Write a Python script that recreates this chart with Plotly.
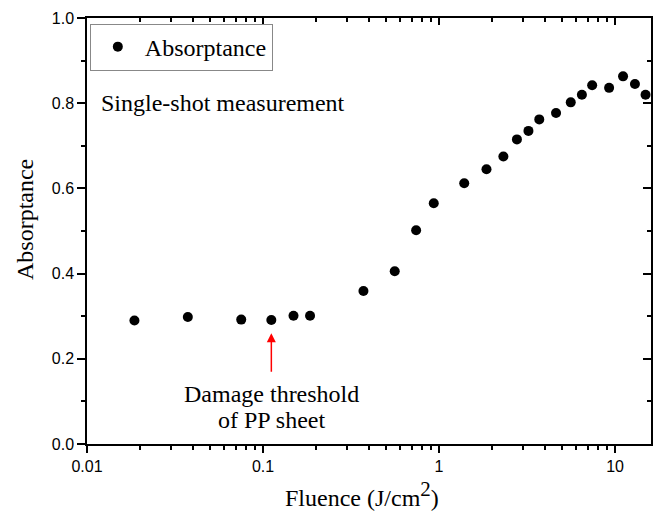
import math
import plotly.graph_objects as go

# Data
fluence = [0.0186, 0.0374, 0.0752, 0.1115, 0.149, 0.185, 0.372, 0.56, 0.741, 0.933,
           1.39, 1.86, 2.32, 2.77, 3.22, 3.71, 4.62, 5.6, 6.48, 7.41, 9.25, 11.1, 12.97, 14.9]
absorptance = [0.290, 0.298, 0.292, 0.291, 0.301, 0.301, 0.359, 0.4055, 0.5016, 0.565,
               0.612, 0.645, 0.675, 0.715, 0.735, 0.762, 0.777, 0.802, 0.820, 0.842,
               0.836, 0.863, 0.845, 0.820]
x_tickvals = [0.01, 0.1, 1, 10]
x_ticktext = ["0.01", "0.1", "1", "10"]
y_tickvals = [0.0, 0.2, 0.4, 0.6, 0.8, 1.0]
threshold_fluence = 0.1115

SERIF = "Liberation Serif, Times New Roman, Times, serif"
SANS = "Liberation Sans, Arial, Helvetica, sans-serif"

x_minor = [k * 10 ** d for d in range(-2, 2) for k in range(2, 10) if k * 10 ** d <= 16]
x_range = [-2, math.log10(16)]

fig = go.Figure()
fig.add_trace(go.Scatter(
    x=fluence, y=absorptance, mode="markers", name="Absorptance",
    marker=dict(color="black", size=10, line=dict(width=0)),
))
# helper trace to draw the mirrored (inside) ticks on top/right
fig.add_trace(go.Scatter(x=[], y=[], xaxis="x2", yaxis="y2", showlegend=False,
                         hoverinfo="skip"))

axis_common = dict(linecolor="black", linewidth=1.5, showgrid=False, zeroline=False,
                   tickcolor="black", tickwidth=1.5)

fig.update_layout(
    width=657, height=511,
    margin=dict(l=87, r=4, t=18, b=67),
    paper_bgcolor="white", plot_bgcolor="white",
    xaxis=dict(type="log", range=x_range, tickvals=x_tickvals, ticktext=x_ticktext,
               ticks="outside", ticklen=7, showline=True, mirror=True,
               tickfont=dict(family=SANS, size=16, color="black"),
               minor=dict(tickvals=x_minor, ticks="outside", ticklen=4,
                          tickcolor="black", tickwidth=1.5),
               **axis_common),
    yaxis=dict(range=[0, 1], tickvals=y_tickvals, tickformat=".1f",
               ticks="outside", ticklen=8, showline=True, mirror=True,
               tickfont=dict(family=SANS, size=16, color="black"),
               minor=dict(dtick=0.1, ticks="outside", ticklen=4,
                          tickcolor="black", tickwidth=1.5),
               **axis_common),
    xaxis2=dict(type="log", range=x_range, overlaying="x", side="top", anchor="y2",
                tickvals=x_tickvals, showticklabels=False, ticks="inside", ticklen=7,
                showline=False, showgrid=False, zeroline=False,
                tickcolor="black", tickwidth=1.5,
                minor=dict(tickvals=x_minor, ticks="inside", ticklen=4,
                           tickcolor="black", tickwidth=1.5)),
    yaxis2=dict(range=[0, 1], overlaying="y", side="right", anchor="x2",
                tickvals=y_tickvals, showticklabels=False, ticks="inside", ticklen=8,
                showline=False, showgrid=False, zeroline=False,
                tickcolor="black", tickwidth=1.5,
                minor=dict(dtick=0.1, ticks="inside", ticklen=4,
                           tickcolor="black", tickwidth=1.5)),
    legend=dict(x=0.005, y=0.987, xanchor="left", yanchor="top",
                bgcolor="white", bordercolor="#888888", borderwidth=1,
                itemwidth=44, tracegroupgap=0,
                font=dict(family=SERIF, size=24, color="black")),
    showlegend=True,
)

ann_font = dict(family=SERIF, size=24, color="black")
fig.add_annotation(text="Single-shot measurement", xref="paper", yref="paper",
                   x=0.0207, y=0.80, xanchor="left", yanchor="middle",
                   showarrow=False, font=ann_font)
fig.add_annotation(text="Damage threshold", xref="x", yref="paper",
                   x=math.log10(threshold_fluence), y=(444.3 - 394) / 426.6,
                   xanchor="center", yanchor="middle", showarrow=False, font=ann_font)
fig.add_annotation(text="of PP sheet", xref="x", yref="paper",
                   x=math.log10(threshold_fluence), y=(444.3 - 420) / 426.6,
                   xanchor="center", yanchor="middle", showarrow=False, font=ann_font)
# red arrow
fig.add_annotation(text="", xref="x", yref="y", axref="x", ayref="y",
                   x=math.log10(threshold_fluence), y=0.26,
                   ax=math.log10(threshold_fluence), ay=0.166,
                   showarrow=True, arrowhead=2, arrowsize=1.2, arrowwidth=1.5,
                   arrowcolor="red")
# axis titles
fig.add_annotation(text="Absorptance", xref="paper", yref="paper",
                   x=-0.110, y=0.528, textangle=-90, xanchor="center", yanchor="middle",
                   showarrow=False, font=ann_font)
fig.add_annotation(text="Fluence (J/cm<sup><span style='font-size:21px'>2</span></sup>)",
                   xref="paper", yref="paper",
                   x=0.487, y=-0.117, xanchor="center", yanchor="middle",
                   showarrow=False, font=ann_font)

fig.write_html("out.html")
